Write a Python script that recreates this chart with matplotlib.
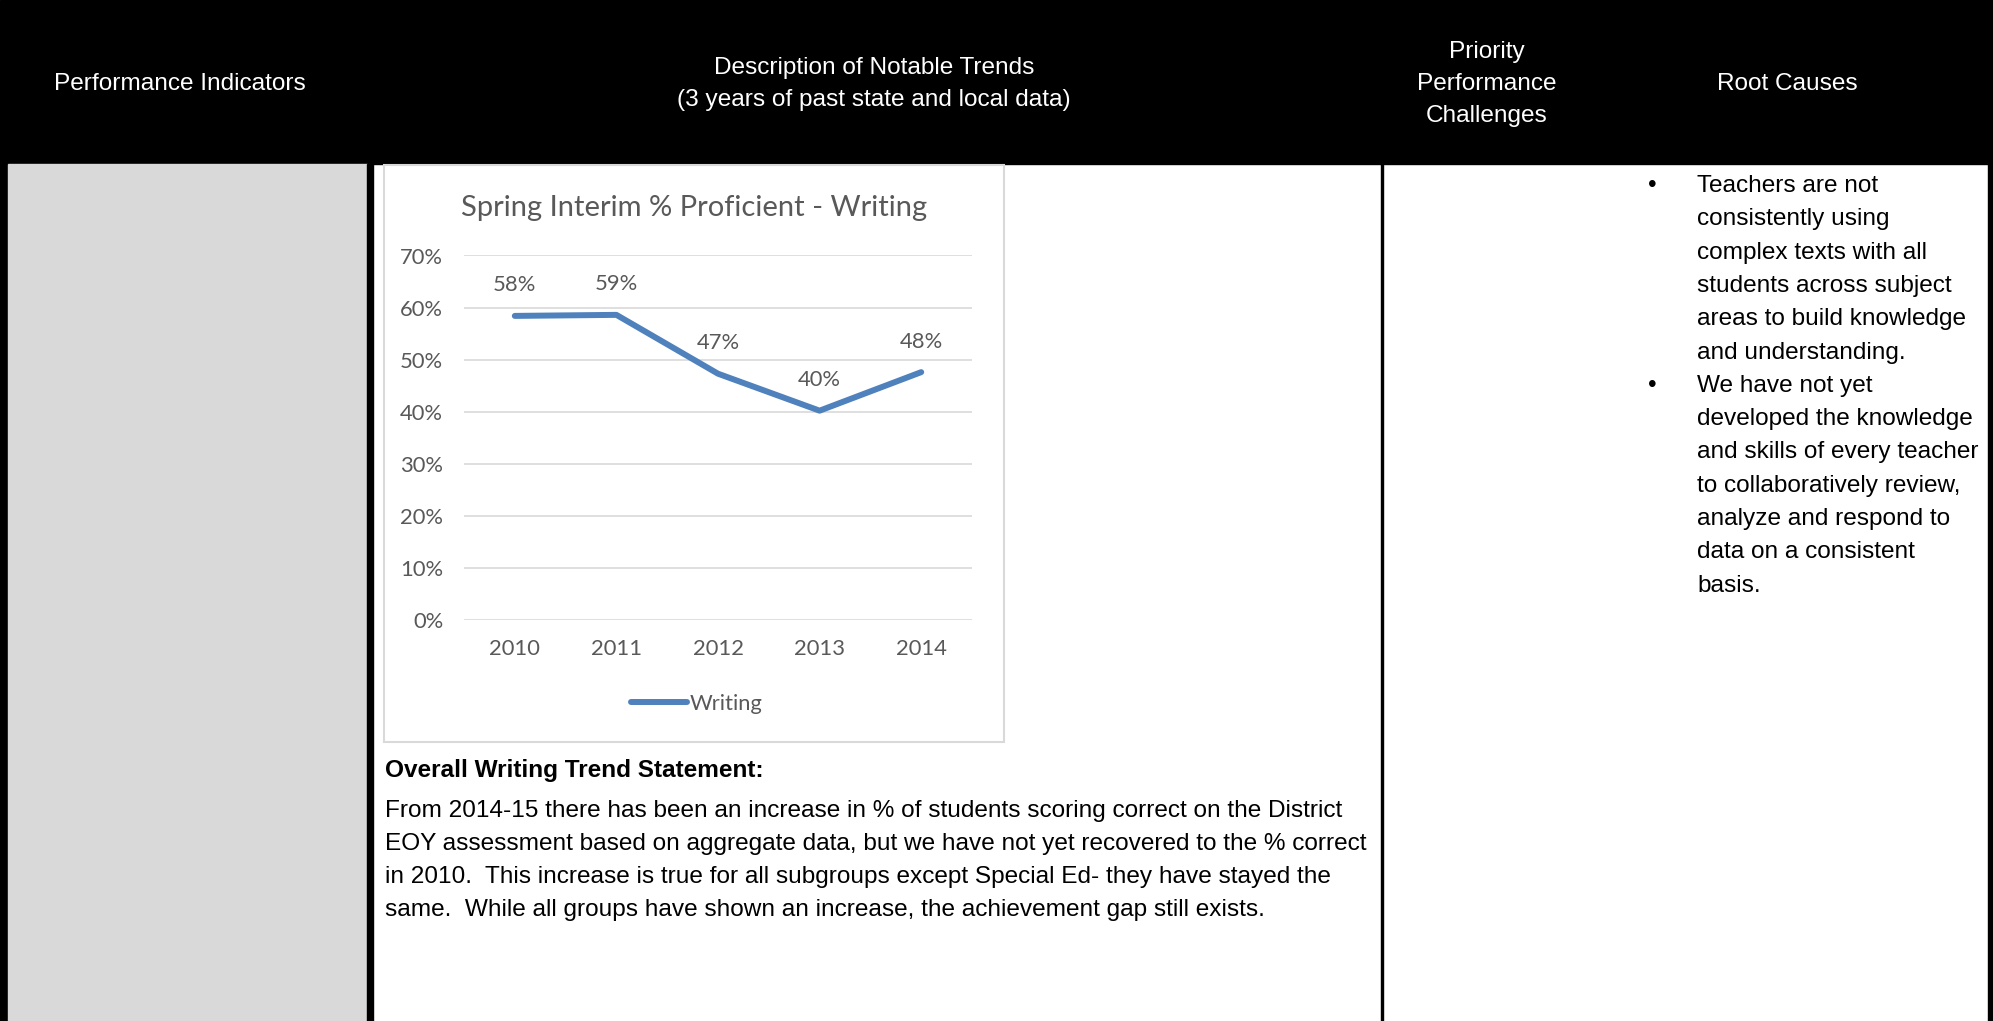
import matplotlib
matplotlib.use("Agg")
import matplotlib.pyplot as plt
from matplotlib.patches import Rectangle
from matplotlib.ticker import PercentFormatter

# chart data
years = ["2010", "2011", "2012", "2013", "2014"]
writing = [0.584, 0.586, 0.473, 0.402, 0.476]
point_labels = ["58%", "59%", "47%", "40%", "48%"]
y_ticks = [0.0, 0.1, 0.2, 0.3, 0.4, 0.5, 0.6, 0.7]

chart_title = "Spring Interim % Proficient - Writing"
series_name = "Writing"

header_cols = [
    "Performance Indicators",
    "Description of Notable Trends\n(3 years of past state and local data)",
    "Priority\nPerformance\nChallenges",
    "Root Causes",
]

root_causes = [
    ["Teachers are not", "consistently using", "complex texts with all",
     "students across subject", "areas to build knowledge", "and understanding."],
    ["We have not yet", "developed the knowledge", "and skills of every teacher",
     "to collaboratively review,", "analyze and respond to", "data on a consistent",
     "basis."],
]

trend_heading = "Overall Writing Trend Statement:"
trend_lines = [
    "From 2014-15 there has been an increase in % of students scoring correct on the District",
    "EOY assessment based on aggregate data, but we have not yet recovered to the % correct",
    "in 2010.  This increase is true for all subgroups except Special Ed- they have stayed the",
    "same.  While all groups have shown an increase, the achievement gap still exists.",
]

W, H = 1993, 1021
fig = plt.figure(figsize=(W / 100, H / 100), dpi=100)

# page / table layer in pixel coordinates
bg = fig.add_axes([0, 0, 1, 1])
bg.set_xlim(0, W)
bg.set_ylim(H, 0)
bg.axis("off")

body_font = "Liberation Sans"
fs = 17.6

bg.add_patch(Rectangle((0, 0), W, 164, color="black"))
bg.add_patch(Rectangle((0, 164), 8, H - 164, color="black"))
bg.add_patch(Rectangle((8, 164), 359, H - 164, color="#d9d9d9"))
bg.add_patch(Rectangle((367, 164), 6, H - 164, color="black"))
bg.add_patch(Rectangle((1381, 164), 2.5, H - 164, color="black"))
bg.add_patch(Rectangle((1988, 164), 5, H - 164, color="black"))

hdr_x = [180, 874, 1487, 1787]
for x, txt in zip(hdr_x, header_cols):
    bg.text(x, 84, txt, color="white", ha="center", va="center",
            fontsize=17.6, family=body_font, linespacing=1.57)

# root causes bullets
y = 186
for item in root_causes:
    bg.text(1652, y, "\u2022", ha="center", va="center", fontsize=fs, family=body_font)
    for line in item:
        bg.text(1697, y, line, ha="left", va="center", fontsize=fs, family=body_font)
        y += 33.3

# trend statement
bg.text(385, 770, trend_heading, ha="left", va="center", fontsize=fs,
        family=body_font, fontweight="bold")
for i, line in enumerate(trend_lines):
    bg.text(385, 811 + 33 * i, line, ha="left", va="center", fontsize=fs,
            family=body_font)

# chart frame
bg.add_patch(Rectangle((384, 165), 620, 577, facecolor="white",
                       edgecolor="#d9d9d9", lw=1.5))

chart_font = "Lato"
grey = "#595959"
blue = "#4f81bd"
lab_fs = 15.8

left, right, top, bottom = 464, 972, 255.5, 620
ax = fig.add_axes([left / W, 1 - bottom / H, (right - left) / W, (bottom - top) / H])
ax.set_facecolor("none")

x = list(range(len(years)))
ax.plot(x, writing, color=blue, lw=4.3, solid_capstyle="round",
        solid_joinstyle="round", label=series_name)
for xi, v, lab in zip(x, writing, point_labels):
    ax.annotate(lab, (xi, v), xytext=(0, 22), textcoords="offset points",
                ha="center", va="center", color=grey, fontsize=lab_fs,
                family=chart_font)

ax.set_xlim(-0.5, len(years) - 0.5)
ax.set_ylim(0, 0.7)
ax.set_yticks(y_ticks)
ax.yaxis.set_major_formatter(PercentFormatter(1.0, decimals=0))
ax.set_xticks(x)
ax.set_xticklabels(years)
ax.grid(axis="y", color="#d9d9d9", lw=1.2)
ax.set_axisbelow(True)
for s in ax.spines.values():
    s.set_visible(False)
ax.tick_params(length=0, colors=grey, labelsize=lab_fs)
ax.tick_params(axis="y", pad=15)
ax.tick_params(axis="x", pad=14)
for t in ax.get_xticklabels() + ax.get_yticklabels():
    t.set_family(chart_font)

fig.text(694 / W, 1 - 208 / H, chart_title, ha="center", va="center",
         color=grey, fontsize=21, family=chart_font)

leg = ax.legend(loc="center", bbox_to_anchor=(697 / W, 1 - 704 / H),
                bbox_transform=fig.transFigure, frameon=False,
                handlelength=2.55, handletextpad=0.12,
                prop={"family": chart_font, "size": lab_fs})
for t in leg.get_texts():
    t.set_color(grey)

fig.savefig("out.png", dpi=100)
